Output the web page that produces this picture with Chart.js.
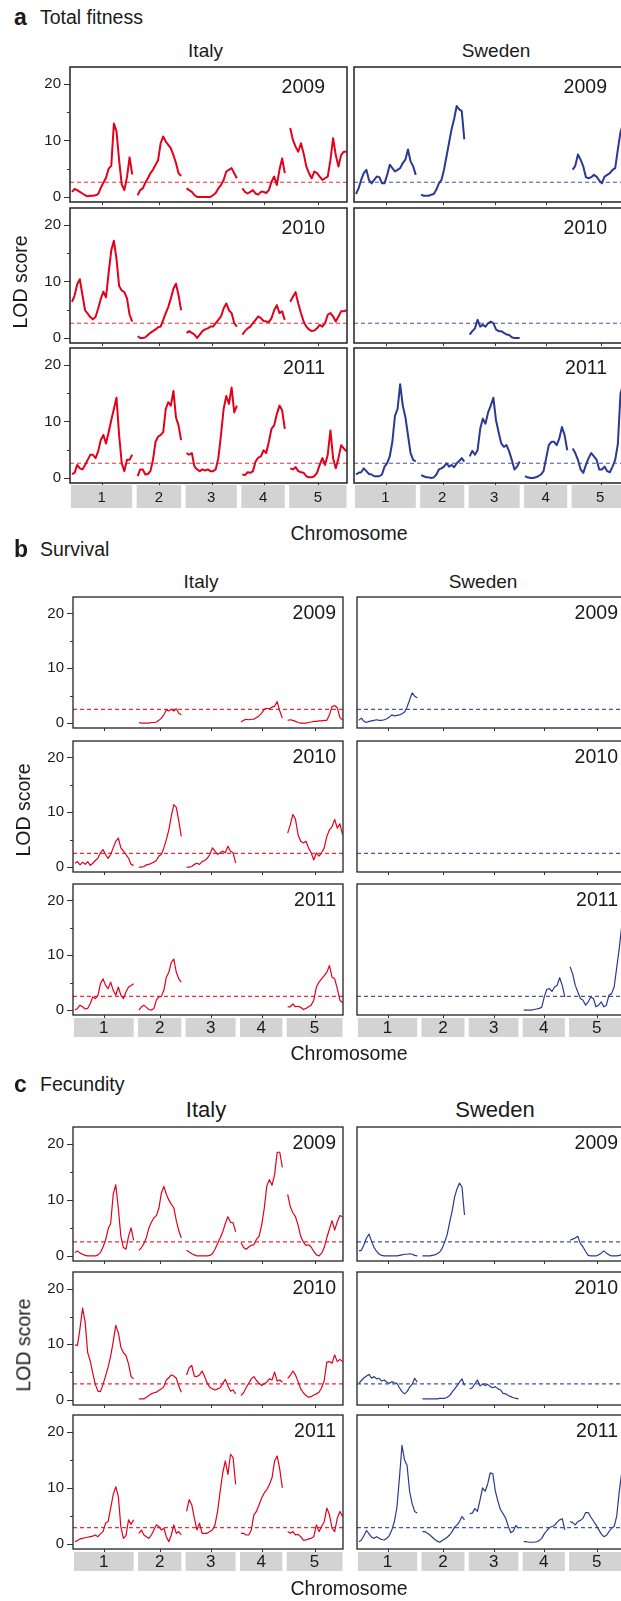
<!DOCTYPE html>
<html>
<head>
<meta charset="utf-8">
<script src="https://cdn.jsdelivr.net/npm/chart.js@4.4.0/dist/chart.umd.min.js"></script>
<style>
html, body { margin: 0; padding: 0; background: #fff; overflow: hidden; }
#fig { position: relative; width: 621px; height: 1601px; overflow: hidden;
       font-family: "Liberation Sans", Arial, sans-serif; color: #1a1a1a; }
#fig canvas { position: absolute; }
.t { position: absolute; white-space: nowrap; }
</style>
</head>
<body>
<div id="fig"></div>
<script>
// chromosome map (cM) and spacing on the shared x axis
const chrNames = ['1', '2', '3', '4', '5'];
const chrLength = [122, 88, 102, 86, 114];
const chrGap = 11;
const years = ['2009', '2010', '2011'];
const populations = ['Italy', 'Sweden'];

// significance thresholds (dashed lines), per year
const thrFitness = [2.6, 2.6, 2.6];
const thrSurvival = [2.5, 2.5, 2.5];
const thrFecundity = [2.5, 2.9, 2.9];

// LOD profiles: one array per chromosome, null = not shown
const fitItaly2009 = [
  [0.9,1.4,1.2,0.9,0.6,0.3,0.1,0.2,0.2,0.3,0.5,1.6,2.5,3.4,5,5.5,13,11.6,6.5,2.2,1.2,3.5,7,4],
  [0.3,1.2,1.5,2.5,3.3,4.2,4.8,5.7,6.5,9.5,10.7,9.8,9.2,8.6,7.4,6,4.2,3.7],
  [1.5,1.2,0.9,0.3,0,0,0,0,0,0,0.3,0.7,1.5,2.1,3,4.5,4.8,5.1,4.2,3.3],
  [1.5,0.9,0.6,0.9,1.2,0.6,0.4,0.9,0.9,0.7,1.2,2.7,3.6,2.1,4.8,6.8,4.2],
  [12.2,10.1,8.9,8,9.5,7.7,5.4,4.2,3.3,4.5,4.2,3.6,3,3.3,3.6,6.5,10.4,7.4,5.4,7.4,8,8]
];
const fitSweden2009 = [
  [0.5,1.5,3,4.2,4.8,3,2.4,3,3.6,3.5,2.4,2.4,3.9,5.7,5.1,4.5,4.8,5.1,6,6.6,8.4,6.3,5.4,3.9],
  [0.4,0.2,0.2,0.2,0.4,0.5,1.3,2.4,3,4.8,7.2,9.6,12,13.8,16.1,15.5,15.2,10.2],
  null,
  null,
  [4.8,5.5,7.5,6.6,5.4,3.5,3.3,3.5,3.9,3.6,2.9,2.4,3.6,3.9,4.2,4.8,5.1,8.4,11.5,13,14,13]
];
const fitItaly2010 = [
  [6.4,7.5,9.5,10.4,7.6,4.9,4.3,3.7,3.3,3.7,5.2,6.9,8.2,7.2,11.5,15.5,17.2,14,9.2,8.4,8.1,7,4.1,2.9],
  [0.3,0,0,0.1,0.5,0.9,1.2,1.5,1.9,2,3.2,4.4,5.5,7,8.7,9.6,7.6,4.9],
  [0.9,1.2,0.9,0.6,0,0.6,1.2,1.5,1.7,2,2,2.6,3.2,3.8,5.2,6.1,4.9,4.4,2.6,2],
  [0.6,1.2,1.7,2,2.6,3.2,3.8,3.5,3,2.9,2.8,3.5,4.9,5.8,4.4,4.7,3.2],
  [6.4,7.3,8.1,6.1,4.4,2.9,2,1.5,1.2,1.3,1.7,2.3,2,2.6,4.1,4.4,3.8,2.9,3.8,4.7,4.7,4.9]
];
const fitSweden2010 = [
  null,
  null,
  [0.6,1.2,1.7,3.2,2,2.3,2,2.6,2.9,2.6,1.5,1.2,1.2,0.9,0.6,0.5,0.1,0,0,0],
  null,
  null
];
const fitItaly2011 = [
  [0.7,0.9,2.3,1.7,1.5,2.3,3.2,4.1,4.1,3.5,4.7,6.7,7.6,6.1,8.1,10.2,12.2,14.2,7.6,2.6,1.2,3.2,3.2,4.1],
  [0.3,1.5,1.5,0.6,0.7,1.2,3.2,6.4,7.3,7.6,8.1,12.2,13.4,12.8,15.4,10.7,9.3,6.7],
  [4.4,4.1,4.4,2,1.5,1.2,1.5,1.3,1.5,1.2,1.2,1.5,3.5,7.6,12.2,14.5,13.1,16,11.6,12.8],
  [0.6,0.5,1,0.9,1.2,2.9,3.6,3.8,4.9,4.4,6.4,8.7,9.3,11.3,12.8,12,8.7],
  [1.7,1.5,1.9,1.2,1,0.9,0.3,0.1,0.1,0.3,0.9,2.3,3.5,2.3,4.1,8.4,3.5,1.7,3.5,5.8,5.2,4.7]
];
const fitSweden2011 = [
  [0.6,0.9,1,1.7,1.2,0.7,0.6,0.3,0.3,0.3,0.6,2,2.6,3.8,6.4,11,12.2,16.6,12.8,10.8,7.6,4.4,3.2,2.9],
  [0.5,0.3,0.1,0.1,0,0.1,0.6,1.5,1.7,2,2.6,2,2.3,1.9,2.6,3,3.5,2.9],
  [3.8,4.8,4.1,4.9,8.7,10.5,9.6,11.6,12.8,14.2,10.2,8.1,6.1,5.5,5.8,4.7,3.2,1.5,2,2.9],
  [0.3,0.1,0,0,0.1,0.3,0.6,1.2,3.5,5.8,6.4,6.4,5.8,7,9,7.6,4.9],
  [5.2,4.4,3.2,1.5,0.9,2.3,3.5,4.4,3.8,3.2,1.5,1.5,2,1.2,1,2,3.2,6,15,16.5,16,13]
];

const survItaly2009 = [
  null,
  [0.1,0,0,0,0,0.1,0.1,0.2,0.5,0.9,1.5,2.4,2.2,2.5,2.2,2.6,1.8,1.5],
  null,
  [0.2,0.5,0.7,0.6,0.7,0.7,1,1.3,1.8,2.5,2.7,2.6,2.9,3.1,3.9,2.2,0.9],
  [0.5,0.6,0.5,0.3,0.1,0,0,0,0.1,0.2,0.3,0.3,0.4,0.4,0.5,0.5,1.5,3,3.2,2.8,1,0.6]
];
const survSweden2009 = [
  [0.5,0.9,0.3,0.1,0.3,0.4,0.5,0.6,0.5,0.5,0.6,0.8,1.1,1.5,1.3,1.4,1.5,1.7,2,2.9,4.2,5.5,4.9,4.6],
  null, null, null, null
];
const survItaly2010 = [
  [0.7,1,0.4,0.9,0.5,1,0.3,0.7,1.2,1.6,2.6,3.2,2.3,1.6,2.3,3.5,4.7,5.3,3.5,2.9,2.3,1.6,0.5,0.3],
  [0,0,0.1,0.4,0.5,0.7,0.9,1.2,2,2.3,3.5,5,6.8,9.3,11.4,10.9,8.4,5.6],
  [0,0,0.1,0.5,0.7,0.5,1,1.2,1.6,2.3,3.5,2.9,2.3,2.6,2.9,2.6,3.8,2.9,2.6,0.7],
  null,
  [6.2,7.7,9.6,8.7,5.9,4.7,4.4,4.7,3.5,2.6,1.3,2.6,2,2.6,3.5,5.6,6.8,7.4,8.7,7.1,7.9,5.9]
];
const survSweden2010 = [null, null, null, null, null];
const survItaly2011 = [
  [0,0.3,0.9,0.6,0.2,0.3,1.2,2.4,2.1,2.7,4.8,5.7,4.5,3.9,5.1,3.6,2.7,4.2,2.7,2.1,3.3,4.2,4.5,4.8],
  [0,0.6,0.9,0.5,0.1,0,0.3,1.8,2.4,2.5,3.6,6,6.9,8.7,9.3,6.9,5.7,5.1],
  null,
  null,
  [0.6,0.6,1.1,0.6,0.7,0.5,0.1,0.3,0.6,0.9,1.8,4.2,5.1,5.7,6.3,6.9,8.1,6,5.7,3.9,1.8,1.3]
];
const survSweden2011 = [
  null, null, null,
  [0,0,0,0,0.1,0.2,0.3,0.5,2.4,3.8,3.9,3.4,4.2,4.5,5.9,4.5,2.4],
  [7.9,6.6,4.5,3.3,2.1,1.8,0.9,1.5,2.4,2.1,0.6,0.9,1.5,0.6,0.9,2.7,3,4.2,7.8,11.4,15.7,16.9]
];

const fecItaly2009 = [
  [0.6,0.9,0.5,0.3,0.1,0,0,0,0,0.2,0.6,1.6,2.8,4.8,5.8,11,12.7,8.5,3.5,1.5,1.2,3.5,5,2.8],
  [1,1.5,2.2,3.3,5,6,6.8,7.2,8.5,11.2,12.4,11,10,9.2,8.6,6.3,4.5,3.2],
  [1,0.7,0.4,0.2,0,0,0,0,0,0.1,0.4,1.2,2.2,3.2,4.3,5.8,7,6,5.9,4.3],
  [2.4,1.5,1.2,1.6,1.9,2,3,3.5,5.5,8.5,12.5,13.6,12.6,14.5,18.5,18.5,15.8],
  [11,8.8,7.7,7,5.5,3.5,2.5,1.9,2,1.6,0.8,0.2,0,0.5,1.5,3.3,4.8,6.3,4.6,6.1,7.2,7]
];
const fecSweden2009 = [
  [0.9,1,2,3.2,3.9,2.6,1.5,0.8,0.3,0.1,0,0,0,0,0,0,0.1,0.2,0.3,0.3,0.4,0.3,0.1,0],
  [0,0,0,0,0.1,0.2,0.4,0.7,1.4,2.5,3.8,6,8,10.5,12,13,12.3,7.3],
  null,
  null,
  [2.8,3,3.2,3.5,2.2,1.6,0.8,0.1,0,0,0,0.2,0.5,0.9,0.5,0.2,0,0,0,0.1,0.3,0]
];
const fecItaly2010 = [
  [9.9,9.8,12.9,16.5,14,8.5,7,4.8,2.8,1.6,1.5,2.8,4.3,5.9,7.9,10.5,13.4,12.1,9.5,8.5,8,6.5,4.2,3.8],
  [0.2,0.2,0.2,0.5,0.8,1.1,1.3,1.4,1.7,2,2.4,3.6,4,4.5,4.3,3.9,2.5,1.4],
  [4.5,5.8,6.2,4.3,4.2,4.5,5.2,4.2,3,2.3,2,1.8,2,2.2,3,3.7,2.5,1.6,1.8,1.1],
  [0.8,1.3,2.2,3,3.8,4.2,3.5,3,2.6,2.9,3.2,3.8,3.6,5,3.4,3.6,3.2],
  [3.9,4.4,5.2,4.5,3.3,2,1.3,0.8,0.5,0.6,0.9,1.1,1.4,2.2,3.5,6.8,6.9,6.6,8.1,6.9,7.3,6.9]
];
const fecSweden2010 = [
  [3,3.5,4,4.3,4.6,3.9,4.2,3.8,3.9,3.4,3.6,3.2,3,3.3,3.1,3,2.2,1.5,1.1,1.5,2.3,2.8,3.9,3.2],
  [0.2,0.2,0.2,0.2,0.2,0.2,0.2,0.3,0.3,0.3,0.5,0.8,1.4,2,2.6,3.2,3.8,2.6],
  [2,2.2,2.9,3.6,2.5,2.9,2.6,2.8,2.4,2.2,2.4,2,1.8,1.2,1.1,0.8,0.6,0.4,0.3,0.2],
  null,
  null
];
const fecItaly2011 = [
  [0.4,0.6,0.9,1,1.1,1.2,1.3,1.4,1.6,1.3,1.8,2.2,3.7,4,6.4,8.8,10.2,8.5,3,1,1.5,4.3,3.5,4.3],
  [1.9,2.5,1.6,1.3,1,1.6,2.5,3.4,3.1,2.5,2.8,1.3,0.4,1.6,3.4,1.9,2.2,1.6],
  [5.8,7.9,7,4.6,2.5,3.7,1.9,1.9,1.9,2.2,2.5,3.4,5.8,9.4,12.7,14.8,12.4,16,15.4,10.6],
  [1.9,1.9,1.6,1.6,2.5,5.2,5.8,7,8.2,9.1,9.7,10.6,11.8,14.8,15.7,13.3,10],
  [2.2,1.9,2.2,1.6,1.7,1.3,0.7,0.7,0.9,1,1.3,3.4,2.2,3.1,4,6.4,5.2,2.8,2.2,4.6,5.8,4.9]
];
const fecSweden2011 = [
  [0.4,0.7,1.5,2.4,1.8,1.2,1,1.3,1,0.8,0.7,1,1.5,2.5,4,6.5,11.8,17.6,15,14,9.4,7.2,5.8,5.5],
  [2.2,2.2,1.9,1.6,1.2,0.8,0.5,0.3,0.6,0.9,1.2,1.6,2.2,3,3.4,4,4.9,4.3],
  [5.4,5.5,6.3,5.8,7.8,10,9.4,10.7,12.7,12.5,9.4,7.6,6.1,5.4,4.6,3.2,2,2.3,3.3,2.8],
  [0.4,0.4,0.3,0.3,0.3,0.4,0.6,1,1.8,2.4,2.9,3.1,3.3,3.9,4.3,4.5,2.5],
  [4,3.8,3.4,4,4.2,4.6,5.6,5.6,4.8,4.1,3.4,2.6,1.8,1.3,1.5,2.2,2.8,3.1,5,9.5,13,14]
];

// ---- layout ----
const sections = [
  { letter: 'a', name: 'Total fitness', titleBase: 25, popBase: 57, popX: [205.5, 496], popFont: 19,
    rows: [[67, 202], [208, 343], [348, 483]], cols: [[70, 347], [352, 629]],
    boxY: [485, 508], boxFont: 15, chromBase: 541, lod: [21, 282],
    lineW: 2, yearRight: 22, yearTop: 27, frameW: 1.5,
    data: [[fitItaly2009, fitSweden2009], [fitItaly2010, fitSweden2010], [fitItaly2011, fitSweden2011]],
    thr: thrFitness },
  { letter: 'b', name: 'Survival', titleBase: 557, popBase: 588, popX: [201, 483], popFont: 19,
    rows: [[597, 728], [741, 872], [884, 1015]], cols: [[73, 343], [355, 625]],
    boxY: [1018, 1037], boxFont: 17, chromBase: 1061, lod: [24, 810],
    lineW: 1.2, yearRight: 7, yearTop: 22.5, frameW: 1.3,
    data: [[survItaly2009, survSweden2009], [survItaly2010, survSweden2010], [survItaly2011, survSweden2011]],
    thr: thrSurvival },
  { letter: 'c', name: 'Fecundity', titleBase: 1092, popBase: 1118, popX: [206, 495], popFont: 22,
    rows: [[1127, 1261], [1272, 1405], [1415, 1549]], cols: [[73, 343], [355, 625]],
    boxY: [1552, 1571], boxFont: 17, chromBase: 1596, lod: [24, 1345],
    lineW: 1.2, yearRight: 7, yearTop: 22.5, frameW: 1.3,
    data: [[fecItaly2009, fecSweden2009], [fecItaly2010, fecSweden2010], [fecItaly2011, fecSweden2011]],
    thr: thrFecundity }
];

const lineColor = ['#e3001b', '#2b3990'];
const dashColor = ['#ea2d37', '#4655a6'];
const fontFam = '"Liberation Sans", Arial, sans-serif';

const chrStart = [];
chrLength.reduce((acc, len, i) => { chrStart[i] = acc; return acc + len + chrGap; }, 0);
const xMin = -4;
const xMax = chrStart[4] + chrLength[4] + 1;

const fig = document.getElementById('fig');

function label(txt, x, base, size, opts = {}) {
  const d = document.createElement('div');
  d.className = 't';
  d.textContent = txt;
  d.style.fontSize = size + 'px';
  d.style.lineHeight = size + 'px';
  d.style.left = x + 'px';
  d.style.top = (base - 0.8465 * size) + 'px';
  if (opts.bold) d.style.fontWeight = 'bold';
  if (opts.align === 'center') d.style.transform = 'translateX(-50%)';
  if (opts.align === 'right') d.style.transform = 'translateX(-100%)';
  fig.appendChild(d);
  return d;
}

function trace(lods) {
  const pts = [];
  lods.forEach((vals, c) => {
    if (!vals) return;
    const n = vals.length;
    vals.forEach((v, i) => pts.push({ x: chrStart[c] + chrLength[c] * i / (n - 1), y: v }));
    pts.push({ x: chrStart[c] + chrLength[c] + chrGap / 2, y: null });
  });
  return pts;
}

const panelFrame = {
  id: 'panelFrame',
  afterDatasetsDraw(chart, args, o) {
    const ctx = chart.ctx;
    const a = chart.chartArea;
    const xs = chart.scales.x, ys = chart.scales.y;
    ctx.save();
    ctx.strokeStyle = '#222';
    ctx.lineWidth = o.frameW;
    ctx.strokeRect(a.left, a.top, a.right - a.left, a.bottom - a.top);
    ctx.lineWidth = 1;
    ctx.strokeStyle = '#333';
    ctx.beginPath();
    if (o.italy) {
      [0, 5, 10, 15, 20].forEach(v => {
        const y = Math.round(ys.getPixelForValue(v)) + 0.5;
        ctx.moveTo(a.left, y);
        ctx.lineTo(a.left - (v % 10 === 0 ? 6 : 3), y);
      });
    }
    chrLength.forEach((len, c) => {
      const x = Math.round(xs.getPixelForValue(chrStart[c] + len / 2)) + 0.5;
      ctx.moveTo(x, a.bottom);
      ctx.lineTo(x, a.bottom + 3);
    });
    ctx.stroke();
    if (o.bottom) {
      chrLength.forEach((len, c) => {
        const x0 = xs.getPixelForValue(chrStart[c]) - 1;
        const x1 = xs.getPixelForValue(chrStart[c] + len);
        ctx.fillStyle = '#d3d3d3';
        ctx.fillRect(x0, o.boxTop, x1 - x0, o.boxBottom - o.boxTop);
        ctx.fillStyle = '#1a1a1a';
        ctx.font = o.boxFont + 'px ' + fontFam;
        ctx.textAlign = 'center';
        ctx.textBaseline = 'middle';
        ctx.fillText(chrNames[c], (x0 + x1) / 2, (o.boxTop + o.boxBottom) / 2 + 1);
      });
    }
    ctx.restore();
  }
};

function makePanel(sec, r, c) {
  const [top, bottom] = sec.rows[r];
  const [left, right] = sec.cols[c];
  const italy = c === 0, bottomRow = r === 2;
  const padB = bottomRow ? sec.boxY[1] - bottom + 2 : 5;
  const cLeft = italy ? 0 : left - 2;
  const cTop = top - 2;
  const w = right + 2 - cLeft;
  const h = bottom - top + 2 + padB;
  const cv = document.createElement('canvas');
  cv.width = w; cv.height = h;
  cv.style.left = cLeft + 'px'; cv.style.top = cTop + 'px';
  cv.style.width = w + 'px'; cv.style.height = h + 'px';
  fig.appendChild(cv);

  const thr = sec.thr[r];
  new Chart(cv, {
    type: 'line',
    data: {
      datasets: [
        { data: trace(sec.data[r][c]), borderColor: lineColor[c], borderWidth: sec.lineW,
          pointRadius: 0, tension: 0, spanGaps: false, borderJoinStyle: 'round' },
        { data: [{ x: xMin, y: thr }, { x: xMax, y: thr }], borderColor: dashColor[c],
          borderWidth: 1.2, borderDash: [4, 3], pointRadius: 0 }
      ]
    },
    options: {
      responsive: false,
      animation: false,
      events: [],
      layout: { autoPadding: false, padding: { left: italy ? 0 : 2, right: 2, top: 2, bottom: padB } },
      plugins: {
        legend: { display: false },
        tooltip: { enabled: false },
        panelFrame: { italy: italy, bottom: bottomRow, boxTop: sec.boxY[0] - cTop,
                      boxBottom: sec.boxY[1] - cTop, boxFont: sec.boxFont, frameW: sec.frameW }
      },
      scales: {
        x: { type: 'linear', display: false, min: xMin, max: xMax },
        y: {
          display: italy, min: -0.9, max: 23,
          afterFit: s => {
            s.width = left - cLeft;
            s.paddingTop = 0; s.paddingBottom = 0; s.paddingLeft = 0; s.paddingRight = 0;
          },
          afterBuildTicks: s => { s.ticks = [0, 5, 10, 15, 20].map(v => ({ value: v })); },
          ticks: { callback: v => (v % 10 === 0 ? String(v) : ''), padding: 9,
                   color: '#1a1a1a', font: { family: fontFam, size: 15 } },
          grid: { display: false, drawTicks: false },
          border: { display: false }
        }
      }
    },
    plugins: [panelFrame]
  });

  label(years[r], right - sec.yearRight, top + sec.yearTop, 19.5, { align: 'right' });
}

sections.forEach(sec => {
  label(sec.letter, 14, sec.titleBase, 23, { bold: true });
  label(sec.name, 40, sec.titleBase, 19.5);
  populations.forEach((p, c) => label(p, sec.popX[c], sec.popBase, sec.popFont, { align: 'center' }));
  for (let r = 0; r < 3; r++) {
    for (let c = 0; c < 2; c++) makePanel(sec, r, c);
  }
  const lod = label('LOD score', sec.lod[0], sec.lod[1], 19.5);
  lod.style.top = sec.lod[1] + 'px';
  lod.style.transform = 'translate(-50%, -50%) rotate(-90deg)';
  label('Chromosome', 349, sec.chromBase, 19.5, { align: 'center' });
});
</script>
</body>
</html>
